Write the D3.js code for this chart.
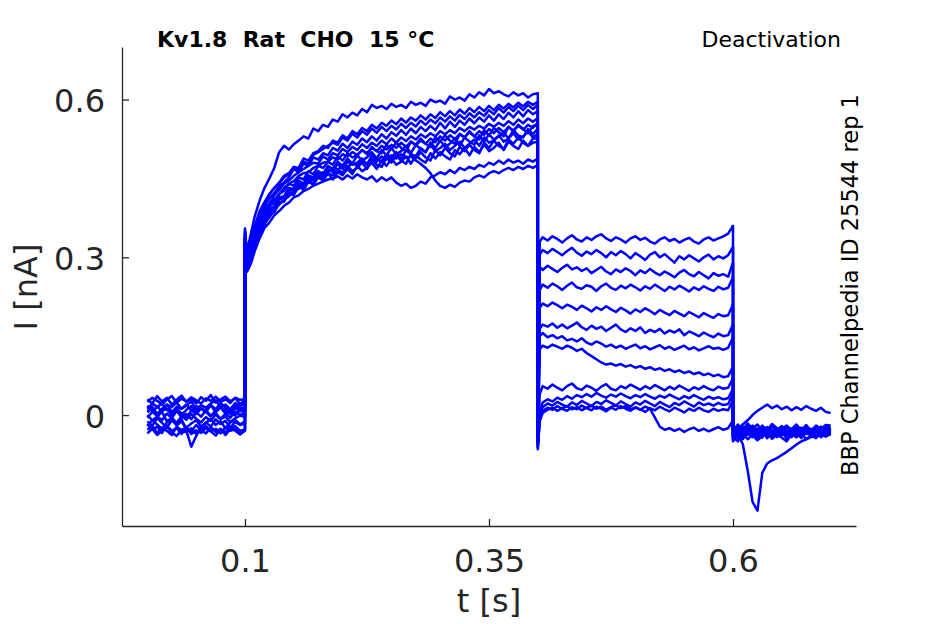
<!DOCTYPE html>
<html>
<head>
<meta charset="utf-8">
<script src="https://cdn.jsdelivr.net/npm/d3@7"></script>
<style>
  body { margin: 0; background: #fff; }
  text { font-family: "DejaVu Sans", sans-serif; fill: #262626; }
</style>
</head>
<body>
<svg id="chart" width="945" height="624"></svg>
<script>
// sample times (s) of each protocol segment
var tBase = [0, 0.005, 0.01, 0.015, 0.02, 0.025, 0.03, 0.035, 0.04, 0.045, 0.05,
    0.055, 0.06, 0.065, 0.07, 0.075, 0.08, 0.085, 0.09, 0.095, 0.1];
var tAct = [0.1, 0.102, 0.106, 0.11, 0.115, 0.12, 0.125, 0.13, 0.135, 0.14, 0.145, 0.15,
    0.155, 0.16, 0.165, 0.17, 0.175, 0.18, 0.185, 0.19, 0.195, 0.2, 0.205, 0.21, 0.215,
    0.22, 0.225, 0.23, 0.235, 0.24, 0.245, 0.25, 0.255, 0.26, 0.265, 0.27, 0.275, 0.28,
    0.285, 0.29, 0.295, 0.3, 0.305, 0.31, 0.315, 0.32, 0.325, 0.33, 0.335, 0.34, 0.345,
    0.35, 0.355, 0.36, 0.365, 0.37, 0.375, 0.38, 0.385, 0.39, 0.395, 0.4];
var tDeact = [0.4, 0.402, 0.405, 0.41, 0.415, 0.42, 0.425, 0.43, 0.435, 0.44, 0.445, 0.45, 0.455,
    0.46, 0.465, 0.47, 0.475, 0.48, 0.485, 0.49, 0.495, 0.5, 0.505, 0.51, 0.515, 0.52, 0.525,
    0.53, 0.535, 0.54, 0.545, 0.55, 0.555, 0.56, 0.565, 0.57, 0.575, 0.58, 0.585, 0.59, 0.595, 0.6];
var tTail = [0.6, 0.605, 0.61, 0.615, 0.62, 0.625, 0.63, 0.635, 0.64, 0.645, 0.65,
    0.655, 0.66, 0.665, 0.67, 0.675, 0.68, 0.685, 0.69, 0.695, 0.7];

// current in pA, one row per sweep
var baseline = [
    [12, 22, 16, 8, 20, 15, 24, 12, 18, 26, 10, 19, 14, 22, 28, 15, 20, 11, 23, 17, 24],
    [-5, 6, -2, -10, 3, -6, 8, -4, 2, -8, 5, -3, 9, -1, 4, -7, 3, -5, 7, 0, 5],
    [25, 33, 27, 20, 30, 36, 24, 31, 26, 34, 28, 22, 32, 27, 35, 25, 30, 23, 33, 29, 30],
    [-20, -10, -18, -26, -14, -8, -20, -12, -24, -16, -10, -22, -15, -7, -19, -12, -25, -14, -9, -18, -12],
    [5, 14, -2, 8, 12, 0, 10, 4, -5, 9, 2, 12, 6, -3, 10, 14, 3, 8, -1, 11, 4],
    [-28, -20, -34, -24, -30, -38, -22, -29, -33, -25, -36, -27, -21, -31, -26, -35, -23, -30, -27, -34, -27],
    [18, 8, 15, 22, 10, 4, 16, 12, 20, 9, 17, 13, 6, 19, 11, 23, 14, 8, 18, 12, 16],
    [-12, -20, -6, -15, -24, -10, -18, -8, -30, -60, -40, -22, -14, -22, -8, -17, -11, -24, -13, -19, -15],
    [30, 22, 36, 26, 33, 20, 29, 37, 25, 31, 22, 34, 27, 38, 24, 30, 35, 26, 32, 21, 28],
    [0, -10, -3, 6, -12, -5, -15, -2, -9, 2, -7, -14, -4, -11, 1, -8, -3, -13, -6, -1, -4],
    [-35, -26, -38, -30, -22, -33, -40, -28, -24, -36, -29, -34, -25, -31, -39, -27, -33, -23, -30, -37, -30],
    [8, 16, 2, 12, 20, 6, 14, 0, 10, 17, 4, 13, 8, 19, 5, 15, 9, 2, 14, 7, 12],
    [-18, -28, -22, -34, -20, -30, -25, -36, -24, -31, -19, -29, -35, -23, -32, -26, -38, -27, -21, -30, -28]
];

var activation = [
    [350, 300, 325, 352, 378, 396, 412, 422, 435, 442, 452, 468, 462, 478, 474, 490, 486, 498, 494, 508,
     503, 516, 508, 520, 514, 526, 519, 530, 522, 534, 526, 538, 531, 542, 533, 545, 536, 548, 540, 550,
     542, 556, 545, 558, 548, 560, 552, 564, 555, 566, 558, 570, 560, 572, 563, 575, 566, 578, 568, 580, 572, 578],
    [335, 285, 300, 326, 350, 372, 388, 392, 410, 414, 428, 426, 440, 438, 452, 446, 460, 452, 468, 462,
     478, 468, 482, 476, 480, 488, 476, 494, 486, 482, 496, 490, 500, 486, 504, 496, 492, 508, 500, 514,
     502, 508, 516, 504, 512, 520, 508, 516, 524, 512, 528, 518, 522, 532, 520, 526, 536, 524, 530, 540, 528, 535],
    [345, 305, 335, 360, 388, 405, 420, 432, 440, 452, 458, 470, 466, 482, 478, 495, 500, 506, 512, 518,
     514, 528, 522, 535, 528, 540, 533, 545, 537, 548, 540, 550, 543, 554, 546, 556, 549, 560, 552, 562,
     555, 566, 558, 568, 560, 571, 563, 574, 566, 576, 569, 580, 572, 584, 575, 586, 578, 588, 580, 590, 582, 590],
    [330, 280, 305, 330, 356, 380, 398, 402, 420, 426, 440, 436, 452, 448, 464, 458, 474, 470, 482, 476,
     492, 484, 498, 490, 494, 504, 496, 510, 502, 498, 514, 506, 518, 508, 502, 520, 514, 526, 516, 510,
     528, 520, 532, 522, 516, 534, 528, 540, 530, 524, 542, 532, 546, 538, 530, 548, 540, 552, 544, 536, 550, 552],
    [355, 310, 345, 378, 408, 432, 450, 470, 500, 512, 505, 515, 522, 530, 526, 545, 540, 552, 548, 562,
     558, 572, 566, 575, 570, 582, 576, 590, 584, 588, 582, 592, 586, 590, 584, 596, 590, 594, 588, 600,
     595, 598, 592, 606, 600, 604, 598, 610, 604, 614, 608, 620, 612, 616, 610, 606, 614, 608, 612, 604, 610, 612],
    [325, 275, 290, 318, 342, 362, 384, 386, 404, 406, 422, 418, 436, 428, 444, 438, 452, 446, 460, 448,
     462, 456, 468, 458, 474, 464, 470, 480, 468, 484, 474, 488, 476, 482, 492, 478, 494, 486, 480, 498,
     488, 500, 492, 486, 504, 496, 508, 494, 510, 500, 514, 502, 508, 518, 504, 520, 512, 506, 522, 512, 518, 520],
    [340, 295, 318, 345, 370, 390, 402, 418, 428, 440, 446, 455, 462, 468, 474, 480, 478, 492, 486, 498,
     494, 506, 500, 510, 504, 515, 508, 518, 512, 522, 515, 526, 518, 528, 521, 530, 524, 534, 528, 536,
     530, 540, 534, 542, 536, 546, 540, 548, 543, 550, 545, 554, 548, 556, 550, 559, 552, 562, 555, 564, 558, 565],
    [332, 282, 302, 330, 354, 374, 392, 396, 414, 416, 432, 430, 446, 440, 456, 452, 464, 458, 474, 468,
     482, 474, 488, 478, 494, 484, 490, 500, 488, 504, 494, 508, 496, 502, 512, 498, 514, 506, 500, 518,
     508, 522, 510, 516, 526, 512, 528, 520, 514, 532, 520, 534, 524, 530, 538, 526, 542, 532, 528, 544, 534, 545],
    [348, 302, 330, 356, 384, 402, 420, 432, 442, 455, 460, 472, 470, 488, 484, 498, 502, 512, 508, 522,
     518, 532, 526, 540, 534, 546, 540, 552, 545, 556, 550, 560, 553, 564, 556, 566, 560, 570, 562, 572,
     565, 576, 568, 578, 570, 581, 573, 584, 576, 586, 578, 588, 580, 590, 583, 592, 585, 594, 587, 596, 590, 596],
    [328, 278, 295, 322, 346, 368, 380, 388, 404, 408, 424, 420, 436, 432, 446, 440, 454, 448, 460, 456,
     468, 460, 474, 464, 470, 480, 468, 486, 476, 472, 490, 480, 494, 484, 478, 496, 488, 500, 490, 484,
     504, 494, 508, 498, 492, 510, 502, 514, 504, 498, 518, 508, 522, 512, 506, 524, 516, 528, 518, 512, 526, 526],
    [338, 288, 312, 338, 364, 384, 395, 410, 420, 432, 440, 445, 455, 460, 462, 470, 474, 480, 482, 490,
     486, 496, 492, 500, 495, 504, 498, 508, 502, 512, 505, 514, 508, 518, 510, 520, 513, 522, 516, 526,
     519, 530, 522, 532, 525, 535, 528, 538, 530, 540, 533, 544, 536, 546, 538, 548, 541, 550, 543, 552, 546, 556],
    [322, 272, 288, 312, 336, 356, 366, 380, 388, 398, 404, 414, 418, 426, 430, 436, 440, 444, 448, 450,
     454, 448, 456, 450, 458, 452, 448, 454, 444, 452, 446, 452, 442, 436, 440, 432, 436, 444, 440, 452,
     456, 462, 458, 466, 460, 470, 466, 472, 468, 476, 472, 480, 476, 484, 478, 486, 480, 484, 478, 486, 482, 488],
    [326, 276, 292, 318, 344, 364, 376, 390, 400, 410, 416, 426, 430, 440, 442, 452, 454, 462, 462, 470,
     466, 476, 470, 480, 474, 484, 478, 488, 482, 492, 486, 494, 488, 496, 490, 492, 484, 478, 470, 460,
     446, 436, 432, 438, 434, 442, 446, 444, 452, 456, 452, 460, 464, 460, 466, 470, 466, 472, 468, 474, 470, 476]
];

var deactivation = [
    [-45, 330, 338, 332, 340, 335, 328, 336, 342, 334, 330, 338, 333, 340, 344, 336, 331, 338, 334, 328, 336, 340, 333, 337, 330, 326, 334, 338, 331, 335, 328, 333, 337, 330, 326, 334, 338, 332, 336, 340, 345, 360],
    [-50, 305, 314, 308, 316, 310, 304, 312, 318, 309, 303, 311, 306, 314, 308, 300, 310, 304, 312, 306, 298, 308, 302, 295, 305, 310, 300, 306, 298, 290, 302, 296, 304, 298, 292, 300, 305, 296, 302, 298, 304, 320],
    [-50, 282, 276, 284, 278, 272, 280, 286, 277, 281, 274, 279, 270, 276, 282, 273, 268, 277, 272, 279, 274, 266, 275, 270, 278, 271, 266, 273, 268, 262, 271, 276, 268, 264, 272, 266, 260, 270, 265, 268, 263, 290],
    [-50, 238, 248, 242, 250, 245, 238, 246, 252, 243, 240, 247, 244, 236, 245, 250, 242, 238, 246, 241, 248, 243, 237, 245, 240, 248, 242, 236, 244, 239, 246, 241, 235, 243, 238, 245, 240, 236, 244, 239, 242, 262],
    [-50, 204, 212, 207, 214, 209, 203, 210, 206, 200, 208, 203, 197, 205, 200, 207, 201, 196, 204, 199, 193, 201, 196, 203, 198, 192, 200, 195, 190, 198, 193, 188, 196, 191, 186, 194, 189, 185, 192, 188, 190, 210],
    [-50, 164, 172, 168, 174, 166, 172, 165, 170, 176, 167, 162, 170, 164, 168, 160, 166, 172, 163, 158, 165, 160, 167, 156, 162, 158, 164, 155, 161, 157, 163, 152, 159, 155, 150, 157, 152, 148, 155, 150, 152, 172],
    [-50, 150, 156, 148, 152, 146, 150, 142, 145, 140, 146, 138, 134, 140, 136, 130, 134, 128, 132, 126, 130, 134, 127, 131, 125, 129, 133, 126, 130, 124, 128, 132, 125, 129, 123, 127, 131, 126, 128, 124, 128, 148],
    [-50, 125, 132, 128, 134, 130, 126, 132, 128, 122, 126, 118, 112, 106, 100, 96, 98, 94, 97, 92, 95, 90, 93, 88, 91, 86, 89, 84, 87, 82, 85, 80, 83, 78, 81, 76, 79, 74, 77, 72, 74, 92],
    [-50, 40, 55, 50, 58, 52, 47, 55, 60, 51, 48, 56, 52, 46, 54, 59, 50, 47, 55, 51, 58, 53, 48, 55, 50, 57, 52, 47, 54, 49, 56, 51, 46, 53, 49, 55, 50, 47, 54, 50, 52, 70],
    [-55, 5, 24, 30, 26, 33, 29, 36, 31, 38, 34, 40, 35, 42, 37, 33, 39, 35, 41, 36, 32, 38, 34, 40, 35, 31, 37, 33, 39, 34, 30, 36, 32, 38, 33, 29, 35, 31, 34, 30, 32, 50],
    [-60, 0, 15, 22, 18, 25, 20, 16, 24, 19, 27, 22, 17, 25, 21, 28, 23, 18, 26, 21, 16, 24, 20, 27, 22, 17, 25, 20, 15, 23, 19, 26, 21, 16, 24, 19, 22, 18, 23, 19, 21, 40],
    [-62, -8, 8, 14, 10, 17, 12, 8, 15, 11, 18, 13, 9, 16, 12, 7, 14, 10, 17, 12, 8, 15, 11, 6, 13, 9, 16, 11, 7, 14, 10, 5, 12, 8, 14, 9, 6, 12, 8, 11, 9, 28],
    [-65, -12, 4, 10, 14, 8, 13, 17, 11, 15, 9, 14, 18, 12, 16, 10, 15, 19, 13, 17, 11, 14, 10, 16, 12, -5, -22, -28, -25, -30, -26, -32, -27, -24, -30, -26, -31, -27, -23, -28, -25, -10]
];

var tail = [
    [-40, -24, -34, -20, -31, -38, -25, -33, -19, -29, -36, -22, -31, -27, -35, -21, -30, -25, -33, -23, -30],
    [-45, -30, -38, -26, -36, -42, -28, -35, -40, -27, -34, -39, -26, -33, -37, -29, -36, -25, -33, -38, -33],
    [-35, -44, -28, -38, -30, -41, -27, -36, -32, -25, -38, -30, -42, -29, -35, -26, -37, -31, -28, -35, -26],
    [-50, -36, -46, -32, -42, -38, -30, -44, -35, -40, -31, -45, -37, -29, -41, -34, -39, -30, -42, -36, -38],
    [-30, -18, -28, -16, -26, -33, -20, -28, -17, -25, -31, -22, -27, -18, -29, -23, -30, -20, -26, -19, -20],
    [-42, -50, -35, -46, -38, -48, -40, -33, -45, -37, -43, -50, -36, -42, -34, -46, -39, -44, -35, -41, -36],
    [-38, -24, -34, -28, -20, -32, -37, -24, -30, -26, -34, -21, -29, -35, -24, -31, -26, -33, -22, -30, -24],
    [-48, -33, -42, -28, -40, -45, -32, -38, -30, -42, -35, -29, -40, -34, -44, -31, -37, -28, -39, -33, -34],
    [-36, -28, -22, -33, -25, -18, -29, -34, -22, -30, -26, -20, -31, -24, -28, -19, -30, -25, -33, -22, -23],
    [-32, -26, -18, -10, 0, 8, 14, 20, 13, 18, 11, 16, 9, 15, 10, 17, 12, 8, 14, 6, 4],
    [-44, -30, -40, -26, -36, -31, -43, -28, -38, -33, -27, -39, -34, -42, -30, -36, -28, -40, -32, -37, -32],
    [-28, -38, -22, -33, -40, -25, -32, -23, -36, -28, -21, -34, -26, -39, -29, -24, -35, -27, -31, -38, -30],
    [-30, -38, -55, -105, -165, -182, -110, -92, -86, -82, -76, -70, -63, -56, -50, -46, -42, -40, -37, -39, -35]
];

var xTicks = [0.1, 0.35, 0.6];
var yTicks = [0, 0.3, 0.6];

function drawChart() {
    var svg = d3.select("#chart");
    var left = 122, right = 856, top = 47, bottom = 526;

    var x = d3.scaleLinear().domain([-0.026, 0.726]).range([left, right]);
    var y = d3.scaleLinear().domain([-0.211, 0.70]).range([bottom, top]);

    // join the four segments of each sweep
    var sweeps = baseline.map(function (b, k) {
        var pts = [];
        [[tBase, b], [tAct, activation[k]], [tDeact, deactivation[k]], [tTail, tail[k]]]
            .forEach(function (seg) {
                seg[0].forEach(function (t, i) { pts.push([t, seg[1][i] / 1000]); });
            });
        return pts;
    });

    var line = d3.line()
        .x(function (d) { return x(d[0]); })
        .y(function (d) { return y(d[1]); });

    svg.append("g")
        .selectAll("path")
        .data(sweeps)
        .enter()
        .append("path")
        .attr("d", line)
        .attr("fill", "none")
        .attr("stroke", "#0000ff")
        .attr("stroke-width", 2.5)
        .attr("stroke-linejoin", "round");

    var xAxis = svg.append("g")
        .attr("transform", "translate(0," + bottom + ")")
        .call(d3.axisBottom(x).tickValues(xTicks).tickFormat(String)
            .tickSizeInner(-7).tickSizeOuter(0).tickPadding(23));
    var yAxis = svg.append("g")
        .attr("transform", "translate(" + left + ",0)")
        .call(d3.axisLeft(y).tickValues(yTicks).tickFormat(String)
            .tickSizeInner(-7).tickSizeOuter(0).tickPadding(17));

    [xAxis, yAxis].forEach(function (g) {
        g.select(".domain").attr("stroke", "#262626").attr("stroke-width", 1.3);
        g.selectAll(".tick line").attr("stroke", "#262626").attr("stroke-width", 1.3);
        g.selectAll(".tick text").attr("font-size", 32).attr("fill", "#262626")
            .style("font-family", "DejaVu Sans");
    });
    yAxis.selectAll(".tick text").attr("dy", "0.38em");

    svg.append("text")
        .attr("x", 489).attr("y", 612)
        .attr("text-anchor", "middle")
        .attr("font-size", 32)
        .text("t [s]");

    svg.append("text")
        .attr("transform", "translate(37,287) rotate(-90)")
        .attr("text-anchor", "middle")
        .attr("font-size", 32)
        .text("I [nA]");

    svg.append("text")
        .attr("x", 157).attr("y", 47)
        .attr("font-size", 22)
        .attr("font-weight", "bold")
        .style("fill", "#000")
        .style("white-space", "pre")
        .text("Kv1.8  Rat  CHO  15 \u00b0C");

    svg.append("text")
        .attr("x", 841).attr("y", 47)
        .attr("text-anchor", "end")
        .attr("font-size", 22)
        .style("fill", "#000")
        .text("Deactivation");

    svg.append("text")
        .attr("transform", "translate(858,285) rotate(-90)")
        .attr("text-anchor", "middle")
        .attr("font-size", 22.5)
        .style("fill", "#000")
        .text("BBP Channelpedia ID 25544 rep 1");
}

drawChart();
</script>
</body>
</html>
